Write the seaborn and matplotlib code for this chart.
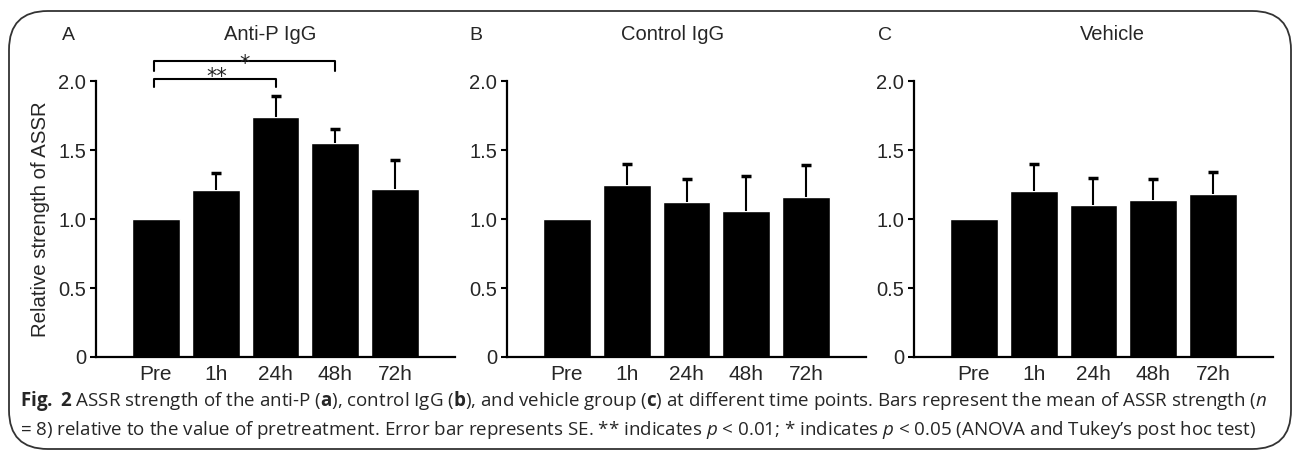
import matplotlib
matplotlib.use("Agg")
import matplotlib.pyplot as plt
import matplotlib.font_manager as fm
from matplotlib.patches import FancyBboxPatch
import numpy as np
import pandas as pd
import seaborn as sns

# --- Data ---
time_points = ["Pre", "1h", "24h", "48h", "72h"]
anti_p_mean = [1.00, 1.21, 1.74, 1.55, 1.22]
anti_p_se = [0.00, 0.12, 0.15, 0.10, 0.21]
control_mean = [1.00, 1.25, 1.12, 1.06, 1.16]
control_se = [0.00, 0.15, 0.17, 0.25, 0.23]
vehicle_mean = [1.00, 1.20, 1.10, 1.14, 1.18]
vehicle_se = [0.00, 0.20, 0.20, 0.15, 0.16]

panel_titles = ["Anti-P IgG", "Control IgG", "Vehicle"]
panel_letters = ["A", "B", "C"]
y_ticks = [0, 0.5, 1.0, 1.5, 2.0]
y_ticklabels = ["0", "0.5", "1.0", "1.5", "2.0"]

# significance brackets on panel A: (start idx, end idx, label)
brackets = [(0, 2, "**"), (0, 3, "*")]

sns.set_style("white")
plt.rcParams["font.family"] = ["Liberation Sans", "DejaVu Sans"]

# condensed font for the caption if available
cap_font = "Open Sans"
try:
    fm.findfont(fm.FontProperties(family="Liberation Sans Narrow"), fallback_to_default=False)
    cap_font = "Liberation Sans Narrow"
except Exception:
    pass
plt.rcParams["mathtext.fontset"] = "custom"
plt.rcParams["mathtext.rm"] = cap_font
plt.rcParams["mathtext.it"] = cap_font + ":italic"
plt.rcParams["mathtext.bf"] = cap_font + ":bold"

W, H = 1293, 451
fig = plt.figure(figsize=(W / 100, H / 100), dpi=100)

def fx(px):
    return px / W

def fy(py):
    return 1 - py / H

ax_left = [96, 507, 914]
ax_w, ax_top, ax_bot = 359, 81, 357

groups = [(anti_p_mean, anti_p_se), (control_mean, control_se), (vehicle_mean, vehicle_se)]
title_x = [270, 673, 1112]
letter_x = [68, 476, 885]
text_col = "#262626"

axes = []
for i, (means, ses) in enumerate(groups):
    ax = fig.add_axes([fx(ax_left[i]), fy(ax_bot), fx(ax_w), (ax_bot - ax_top) / H])
    df = pd.DataFrame({"time": time_points, "value": means, "se": ses})
    sns.barplot(data=df, x="time", y="value", color="black", width=0.8,
                errorbar=None, ax=ax, saturation=1)
    # upper-only error bars with a small cap
    err = df[df["se"] > 0]
    xpos = err.index.to_numpy()
    tops = (err["value"] + err["se"]).to_numpy()
    ax.vlines(xpos, err["value"], tops, color="black", lw=1.5)
    ax.plot(xpos, tops, ls="none", marker="_", ms=7, mew=2.5, color="black")
    ax.set_xlim(-1, 5)
    ax.set_ylim(0, 2.0)
    ax.set_yticks(y_ticks)
    ax.set_yticklabels(y_ticklabels)
    ax.set_xlabel("")
    ax.set_ylabel("")
    for s in ["top", "right"]:
        ax.spines[s].set_visible(False)
    for s in ["left", "bottom"]:
        ax.spines[s].set_linewidth(1.6)
        ax.spines[s].set_color("black")
    ax.tick_params(axis="y", direction="out", length=4, width=1.5, left=True,
                   labelsize=14.5, colors="black", pad=3)
    ax.tick_params(axis="x", length=0, labelsize=15, pad=6)
    for lab in ax.get_yticklabels() + ax.get_xticklabels():
        lab.set_color(text_col)
    fig.text(fx(title_x[i]), fy(35), panel_titles[i], ha="center", va="center",
             fontsize=14.5, color=text_col)
    fig.text(fx(letter_x[i]), fy(35), panel_letters[i], ha="center", va="center",
             fontsize=14, color=text_col)
    axes.append(ax)

axes[0].set_ylabel("Relative strength of ASSR", fontsize=14.7, color=text_col, labelpad=6)

# significance brackets on panel A
axA = axes[0]
levels = [(2.015, 1.955, 1.985), (2.145, 2.07, 2.08)]
for (i0, i1, lab), (ytop, ylow, ytxt) in zip(brackets, levels):
    xs = [i0 - 0.03, i0 - 0.03, i1, i1]
    ys = [ylow, ytop, ytop, ylow]
    axA.plot(xs, ys, color="black", lw=1.5, clip_on=False)
    xt = 1.02 if lab == "**" else 1.48
    axA.text(xt, ytxt, lab, ha="center", va="baseline", fontsize=15,
             family="DejaVu Sans", color=text_col, clip_on=False)

# caption
cap1 = (r"$\mathbf{Fig.}$ $\mathbf{2}$ ASSR strength of the anti-P ($\mathbf{a}$), control IgG ($\mathbf{b}$), "
        r"and vehicle group ($\mathbf{c}$) at different time points. Bars represent the mean of ASSR strength ($\mathit{n}$")
cap2 = (r"= 8) relative to the value of pretreatment. Error bar represents SE. ** indicates $\mathit{p}$ < 0.01; "
        r"* indicates $\mathit{p}$ < 0.05 (ANOVA and Tukey’s post hoc test)")
fig.text(fx(20), fy(401), cap1, ha="left", va="center", fontsize=13.5,
         family=cap_font, color=text_col)
fig.text(fx(20), fy(430), cap2, ha="left", va="center", fontsize=13.5,
         family=cap_font, color=text_col)

# rounded frame
frame = FancyBboxPatch((fx(9), fy(449)), fx(1282), (449 - 11) / H,
                       boxstyle="round,pad=0,rounding_size=0.03",
                       transform=fig.transFigure, fill=False, ec="#333333", lw=1.3,
                       mutation_aspect=W / H)
fig.patches.append(frame)

fig.savefig("out.png", dpi=100)
